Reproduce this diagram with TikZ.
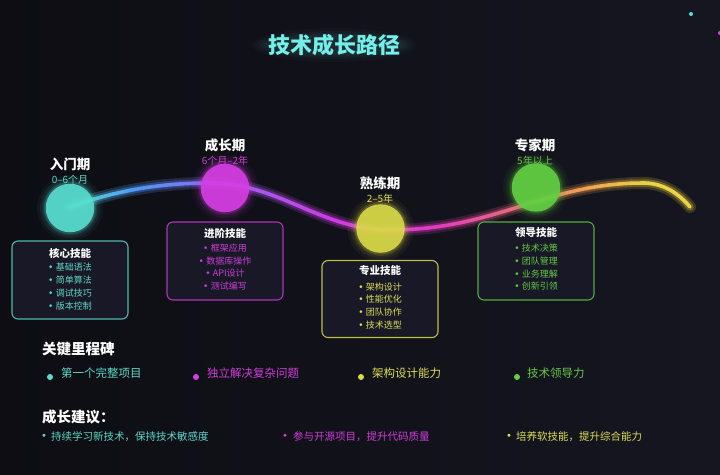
\documentclass[tikz,border=0pt]{standalone}
\usepackage{fontspec}
\setmainfont{Noto Sans CJK SC}
\newfontfamily\dvfont{DejaVu Sans}
\newcommand\bul{{\dvfont •}\hspace{2.2pt}}
\definecolor{bg}{RGB}{16,16,24}
\definecolor{bgL}{RGB}{13,13,19}
\definecolor{bgR}{RGB}{22,22,33}
\definecolor{boxfill}{RGB}{24,24,38}
\definecolor{cC}{RGB}{88,222,208}
\definecolor{cM}{RGB}{214,62,228}
\definecolor{cY}{RGB}{218,218,72}
\definecolor{cG}{RGB}{98,208,66}
\definecolor{tC}{RGB}{95,215,200}
\definecolor{tM}{RGB}{205,62,215}
\definecolor{tY}{RGB}{222,222,90}
\definecolor{tG}{RGB}{100,200,70}
\definecolor{titlec}{RGB}{115,238,232}
\definecolor{g0}{RGB}{85,225,210}
\definecolor{g1}{RGB}{80,150,245}
\definecolor{g2}{RGB}{150,100,240}
\definecolor{g3}{RGB}{205,60,228}
\definecolor{g4}{RGB}{225,60,190}
\definecolor{g5}{RGB}{232,110,120}
\definecolor{g6}{RGB}{240,165,80}
\definecolor{g7}{RGB}{235,210,70}
\definecolor{g8}{RGB}{235,215,70}
\begin{document}
\begin{tikzpicture}[x=1pt,y=-1pt,
  stage/.style={font=\fontsize{13.5}{15}\selectfont\bfseries, text=white, inner sep=0},
  sub/.style={font=\fontsize{10}{11}\selectfont, inner sep=0},
  boxst/.style={draw, rounded corners=6pt, line width=1.1pt, fill=boxfill, minimum width=116pt, minimum height=78pt, inner sep=0},
  btitle/.style={font=\fontsize{10.5}{12}\selectfont\bfseries, text=white, inner sep=0},
  bitem/.style={font=\fontsize{9}{10}\selectfont, inner sep=0},
  head/.style={font=\fontsize{14.5}{16}\selectfont\bfseries, text=white, inner sep=0, anchor=west},
  mile/.style={font=\fontsize{11.5}{13}\selectfont, inner sep=0, anchor=west},
  adv/.style={font=\fontsize{10.5}{12}\selectfont, inner sep=0, anchor=west},
  advb/.style={font=\dvfont\fontsize{10}{12}\selectfont, inner sep=0},
  dotst/.style={circle, inner sep=0, minimum size=6pt},
  bigc/.style={circle, inner sep=0, minimum size=48.5pt, fill opacity=0.9}]
\shade[left color=bgL,right color=bgR] (0,0) rectangle (720,474);
\useasboundingbox (0,0) rectangle (720,474);

% soft glow behind title
\foreach \rx/\ry/\op in {82/17/0.025, 78/14/0.03, 74/12/0.035, 70/10/0.04}{
  \fill[titlec, opacity=\op] (334,45) ellipse ({\rx} and {\ry});
}
\node[font=\fontsize{22}{24}\selectfont\bfseries, text=titlec, inner sep=0] (title) at (334,45) {技术成长路径};

% small dots
\node[dotst, minimum size=4pt, fill=cC] (d1) at (691,14) {};
\node[dotst, minimum size=4pt, fill=cM] (d2) at (720,33) {};

% gradient curve
\foreach \w/\mix in {12/20, 7.5/42, 3.6/100}{
 \foreach \Ax/\Ay/\Bx/\By/\Cx/\Cy/\Dx/\Dy in {70/207/120/189/165/183/210/183, 210/183/280/183/320/230/390/230, 390/230/497/230/545/183/643/183, 643/183/665/183/680/195/690/207}{
  \foreach \i in {1,...,24}{
   \pgfmathsetmacro\tA{(\i-1)/24}
   \pgfmathsetmacro\tB{\i/24}
   \pgfmathsetmacro\uA{1-\tA}
   \pgfmathsetmacro\uB{1-\tB}
   \pgfmathsetmacro\xA{\uA*\uA*\uA*\Ax+3*\uA*\uA*\tA*\Bx+3*\uA*\tA*\tA*\Cx+\tA*\tA*\tA*\Dx}
   \pgfmathsetmacro\yA{\uA*\uA*\uA*\Ay+3*\uA*\uA*\tA*\By+3*\uA*\tA*\tA*\Cy+\tA*\tA*\tA*\Dy}
   \pgfmathsetmacro\xB{\uB*\uB*\uB*\Ax+3*\uB*\uB*\tB*\Bx+3*\uB*\tB*\tB*\Cx+\tB*\tB*\tB*\Dx}
   \pgfmathsetmacro\yB{\uB*\uB*\uB*\Ay+3*\uB*\uB*\tB*\By+3*\uB*\tB*\tB*\Cy+\tB*\tB*\tB*\Dy}
   \pgfmathsetmacro\xm{(\xA+\xB)/2}
   \pgfmathtruncatemacro\kA{(\xm>140)+(\xm>230)+(\xm>330)+(\xm>440)+(\xm>520)+(\xm>590)+(\xm>650)}
   \pgfmathtruncatemacro\kB{\kA+1}
   \pgfmathsetmacro\stA{{70,140,230,330,440,520,590,650,720}[\kA]}
   \pgfmathsetmacro\stB{{70,140,230,330,440,520,590,650,720}[\kB]}
   \pgfmathtruncatemacro\pc{max(0,min(100,100*(\stB-\xm)/(\stB-\stA)))}
   \colorlet{cur}{g\kA!\pc!g\kB}
   \colorlet{cur}{cur!\mix!bg}
   \draw[line width=\w pt, line cap=round, cur] (\xA,\yA) -- (\xB,\yB);
  }}}

% circles with halos
\foreach \cx/\cy/\cc in {70/208/cC, 225/188/cM, 380.5/228.5/cY, 536/187.5/cG}{
  \foreach \r/\op in {33/0.05, 30/0.08, 27.5/0.12, 26/0.18}{
    \fill[\cc, opacity=\op] (\cx,\cy) circle (\r);
  }
}
\node[bigc, fill=cC] (c1) at (70,208) {};
\node[bigc, fill=cM] (c2) at (225,188) {};
\node[bigc, fill=cY] (c3) at (380.5,228.5) {};
\node[bigc, fill=cG] (c4) at (536,187.5) {};

% stage labels
\node[stage] (s1) at (70,164) {入门期};
\node[sub, text=tC] (s1t) at (70,180) {0–6个月};
\node[stage] (s2) at (225,145) {成长期};
\node[sub, text=tM] (s2t) at (225,161) {6个月–2年};
\node[stage] (s3) at (380,183) {熟练期};
\node[sub, text=tY] (s3t) at (380,199) {2–5年};
\node[stage] (s4) at (535,145) {专家期};
\node[sub, text=tG] (s4t) at (535,161) {5年以上};

% boxes
\node[boxst, draw=tC!85!black] (b1) at (70,280) {};
\node[btitle] (b1t) at (70,253) {核心技能};
\node[bitem, text=tC] (b1a) at (70,267) {\bul 基础语法};
\node[bitem, text=tC] (b1b) at (70,280) {\bul 简单算法};
\node[bitem, text=tC] (b1c) at (70,293) {\bul 调试技巧};
\node[bitem, text=tC] (b1d) at (70,306) {\bul 版本控制};

\node[boxst, draw=tM!85!black] (b2) at (225,261) {};
\node[btitle] (b2t) at (225,233) {进阶技能};
\node[bitem, text=tM] (b2a) at (225,248) {\bul 框架应用};
\node[bitem, text=tM] (b2b) at (225,261) {\bul 数据库操作};
\node[bitem, text=tM] (b2c) at (225,273) {\bul API设计};
\node[bitem, text=tM] (b2d) at (225,286) {\bul 测试编写};

\node[boxst, draw=tY!85!black, minimum height=77pt] (b3) at (380,299) {};
\node[btitle] (b3t) at (380,271) {专业技能};
\node[bitem, text=tY] (b3a) at (380,287) {\bul 架构设计};
\node[bitem, text=tY] (b3b) at (380,299) {\bul 性能优化};
\node[bitem, text=tY] (b3c) at (380,312) {\bul 团队协作};
\node[bitem, text=tY] (b3d) at (380,325) {\bul 技术选型};

\node[boxst, draw=tG!85!black] (b4) at (536,261) {};
\node[btitle] (b4t) at (536,233) {领导技能};
\node[bitem, text=tG] (b4a) at (536,248) {\bul 技术决策};
\node[bitem, text=tG] (b4b) at (536,261) {\bul 团队管理};
\node[bitem, text=tG] (b4c) at (536,274) {\bul 业务理解};
\node[bitem, text=tG] (b4d) at (536,286) {\bul 创新引领};

% milestones
\node[head] (mh) at (42,349) {关键里程碑};
\node[dotst, fill=cC] (m1d) at (50,377) {};
\node[mile, text=tC] (m1) at (61,373) {第一个完整项目};
\node[dotst, fill=cM] (m2d) at (196,377) {};
\node[mile, text=tM] (m2) at (207,373) {独立解决复杂问题};
\node[dotst, fill=cY] (m3d) at (361,377) {};
\node[mile, text=tY] (m3) at (372,373) {架构设计能力};
\node[dotst, fill=cG] (m4d) at (517,377) {};
\node[mile, text=tG] (m4) at (527,373) {技术领导力};

% advice
\node[head] (ah) at (42,417) {成长建议：};
\node[advb, text=tC] (a1d) at (44,437) {•};
\node[adv, text=tC] (a1) at (51,437) {持续学习新技术，保持技术敏感度};
\node[advb, text=tM] (a2d) at (285,437) {•};
\node[adv, text=tM] (a2) at (293,437) {参与开源项目，提升代码质量};
\node[advb, text=tY] (a3d) at (509,437) {•};
\node[adv, text=tY] (a3) at (516,437) {培养软技能，提升综合能力};
\end{tikzpicture}
\end{document}
